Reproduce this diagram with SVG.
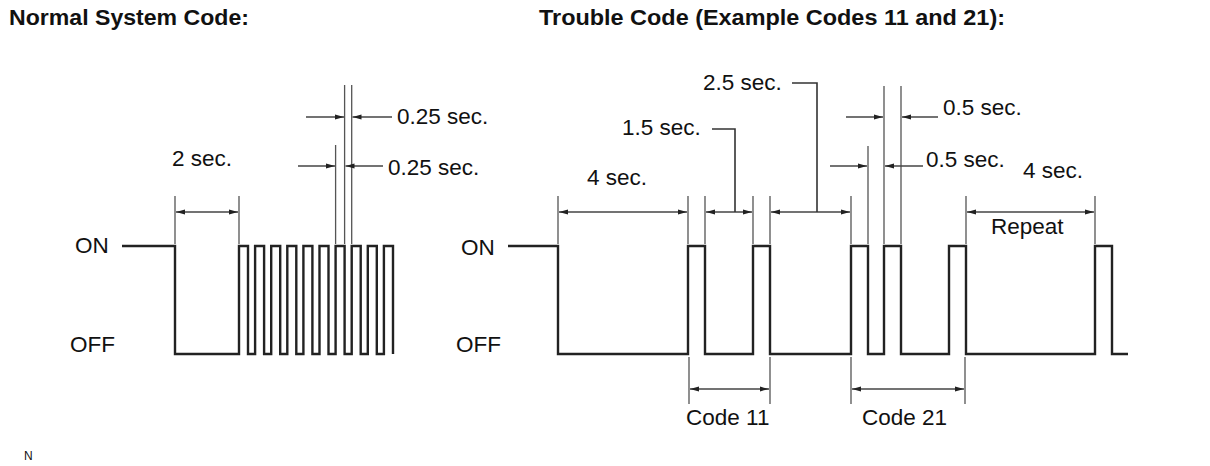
<svg xmlns="http://www.w3.org/2000/svg" width="1210" height="466" viewBox="0 0 1210 466">
<style>
text{font-family:"Liberation Sans",Arial,sans-serif;fill:#111}
.t{font-size:22.5px;font-weight:bold}
.l{font-size:22.5px}
.wave{fill:none;stroke:#222;stroke-width:2.4;stroke-linejoin:miter}
.ext{fill:none;stroke:#555;stroke-width:1.3}
.dim{fill:none;stroke:#444;stroke-width:1.4;marker-end:url(#ah)}
.dim2{fill:none;stroke:#444;stroke-width:1.4;marker-start:url(#ah);marker-end:url(#ah)}
.lead{fill:none;stroke:#333;stroke-width:1.6}
</style>
<defs>
<marker id="ah" markerUnits="userSpaceOnUse" markerWidth="10" markerHeight="6" refX="9" refY="3" orient="auto-start-reverse">
<path d="M0,0.6 L9,3 L0,5.4 Z" fill="#222"/>
</marker>
</defs>
<rect width="1210" height="466" fill="#fff"/>
<g id="titles">
<text class="t" x="9" y="25" textLength="240" lengthAdjust="spacingAndGlyphs">Normal System Code:</text>
<text class="t" x="539" y="25" textLength="466" lengthAdjust="spacingAndGlyphs">Trouble Code (Example Codes 11 and 21):</text>
</g>
<g id="normal-wave">
<text class="l" x="75" y="253">ON</text>
<text class="l" x="70" y="352">OFF</text>
<path class="wave" d="M122,246 H175 V354 H239 V246 H248 V354 H255.1 V246 H264.1 V354 H271.2 V246 H280.2 V354 H287.3 V246 H296.3 V354 H303.4 V246 H312.4 V354 H319.5 V246 H328.5 V354 H335.6 V246 H344.6 V354 H351.7 V246 H360.7 V354 H367.8 V246 H376.8 V354 H383.9 V246 H393 V354"/>
</g>
<g id="normal-dims">
<path class="ext" d="M175,196 V244 M239,196 V244 M335.6,145 V244 M344.6,85 V244 M351.7,85 V244"/>
<line class="dim2" x1="176" y1="212" x2="238" y2="212"/>
<text class="l" x="172" y="166">2 sec.</text>
<line class="dim" x1="306" y1="117" x2="344" y2="117"/>
<line class="dim" x1="392" y1="117" x2="352.5" y2="117"/>
<text class="l" x="397" y="124">0.25 sec.</text>
<line class="dim" x1="298" y1="166" x2="335" y2="166"/>
<line class="dim" x1="383" y1="166" x2="345.5" y2="166"/>
<text class="l" x="388" y="175">0.25 sec.</text>
</g>
<g id="trouble-wave">
<text class="l" x="461" y="255">ON</text>
<text class="l" x="456" y="352">OFF</text>
<path class="wave" d="M508,246 H558 V354 H688 V246 H705 V354 H753 V246 H770 V354 H851 V246 H868 V354 H884 V246 H901 V354 H949 V246 H966 V354 H1095 V246 H1112 V354 H1128"/>
</g>
<g id="trouble-dims">
<path class="ext" d="M558,196 V244 M688,196 V244 M705,196 V244 M753,196 V244 M770,196 V244 M851,196 V244 M868,146 V244 M884,86 V244 M901,86 V244 M966,196 V244 M1095,196 V244"/>
<line class="dim2" x1="559" y1="212" x2="687" y2="212"/>
<text class="l" x="587" y="185">4 sec.</text>
<line class="dim2" x1="706" y1="212" x2="752" y2="212"/>
<path class="lead" d="M712,129 H735 V212"/>
<text class="l" x="622" y="135">1.5 sec.</text>
<line class="dim2" x1="771" y1="212" x2="850" y2="212"/>
<path class="lead" d="M792,83 H817 V212"/>
<text class="l" x="703" y="90">2.5 sec.</text>
<line class="dim" x1="846" y1="117" x2="883" y2="117"/>
<line class="dim" x1="938" y1="117" x2="902" y2="117"/>
<text class="l" x="943" y="115">0.5 sec.</text>
<line class="dim" x1="830" y1="166" x2="867" y2="166"/>
<line class="dim" x1="923" y1="166" x2="885" y2="166"/>
<text class="l" x="926" y="167">0.5 sec.</text>
<line class="dim2" x1="967" y1="212" x2="1094" y2="212"/>
<text class="l" x="1023" y="178">4 sec.</text>
<text class="l" x="991" y="234">Repeat</text>
<path class="ext" d="M689,357 V404 M770,357 V404 M851,357 V404 M965,357 V404"/>
<line class="dim2" x1="690" y1="389" x2="769" y2="389"/>
<text class="l" x="686" y="425">Code 11</text>
<line class="dim2" x1="852" y1="389" x2="964" y2="389"/>
<text class="l" x="862" y="425">Code 21</text>
</g>
<text x="24" y="460" style="font-size:12px">N</text>
</svg>
